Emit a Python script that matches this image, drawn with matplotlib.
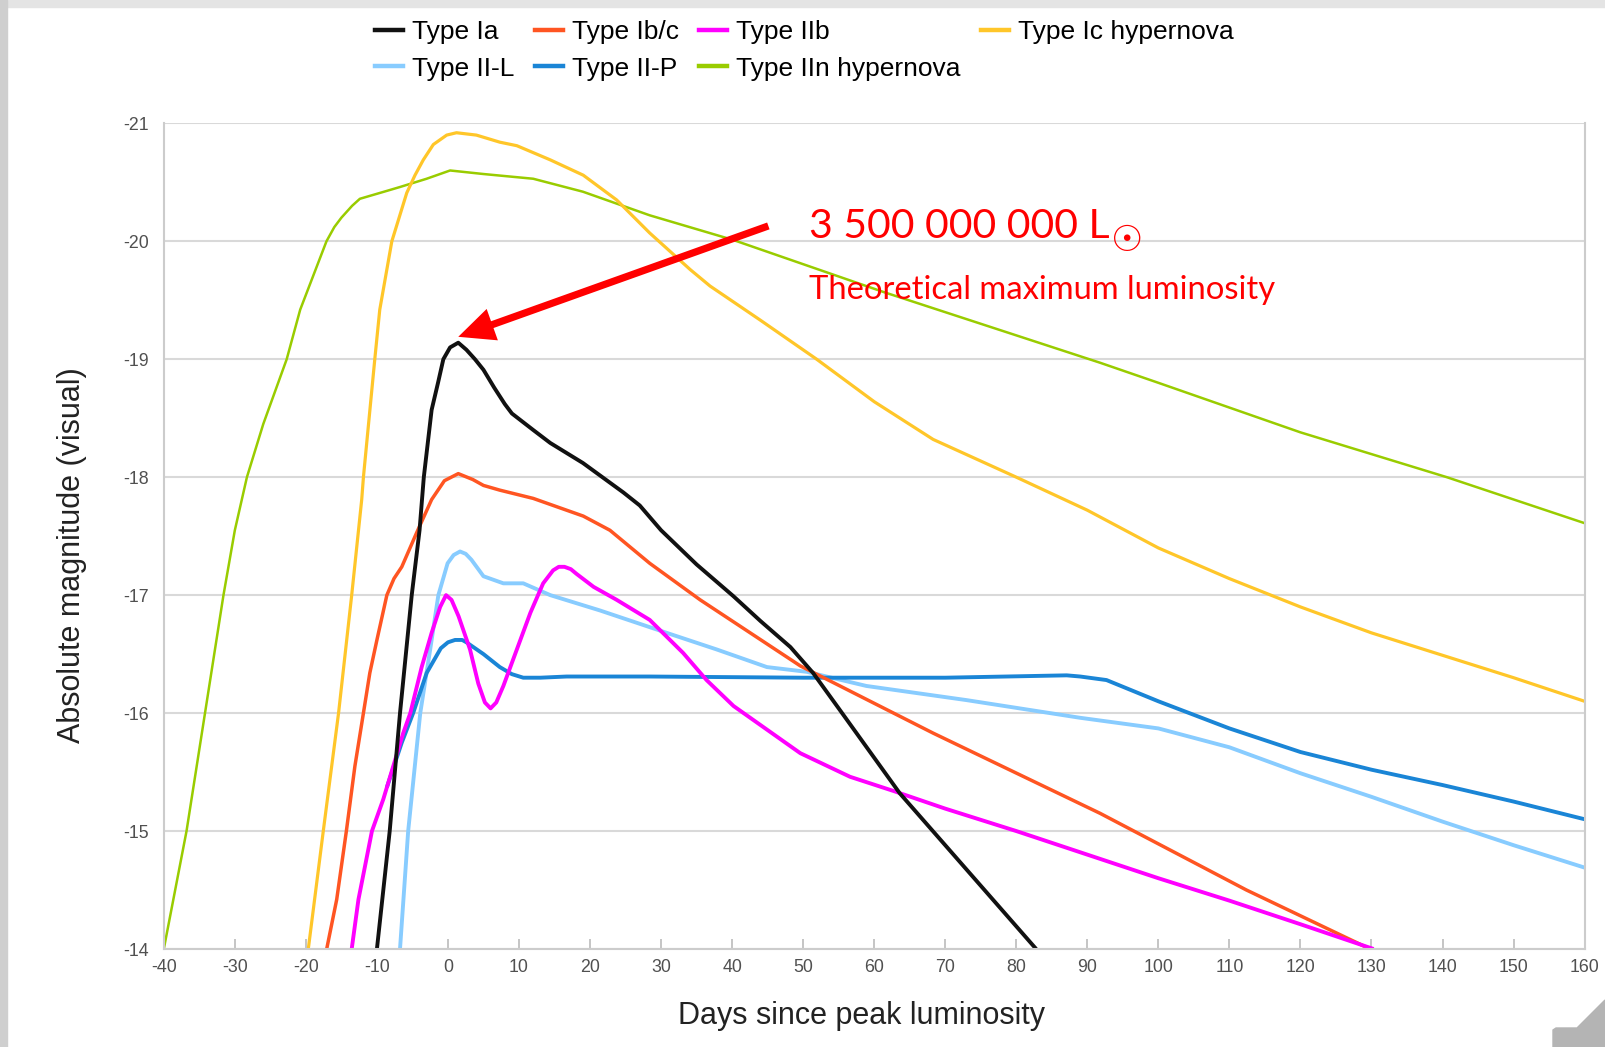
import numpy as np
import matplotlib.pyplot as plt
from matplotlib.lines import Line2D
from matplotlib.patches import Rectangle, Polygon

plt.rcParams['font.family'] = ['Liberation Sans', 'DejaVu Sans']
plt.rcParams['axes.unicode_minus'] = False

# light curves (days since peak, absolute magnitude)
ia_days = [-10.0, -8.2, -6.75, -5.1, -4.0, -3.4, -2.3, -1.4, -0.65, 0.3, 1.45, 2.6, 3.8, 5.0, 6.5, 8.0, 9.0, 10.5,
           12.0, 14.4, 19.0, 24.7, 27.0, 30.0, 35.0, 40.2, 44.0, 48.2, 51.4, 55.0, 63.6, 82.8]
ia_mag = [-14.0, -15.0, -16.0, -17.0, -17.55, -18.0, -18.57, -18.8, -19.0, -19.1, -19.14, -19.08, -19.0, -18.91,
          -18.76, -18.62, -18.54, -18.47, -18.4, -18.29, -18.12, -17.87, -17.76, -17.55, -17.26, -16.99, -16.78,
          -16.56, -16.34, -16.04, -15.32, -14.0]

ibc_days = [-17.07, -15.66, -14.3, -13.1, -11.9, -11.0, -10.0, -8.6, -7.6, -6.5, -4.4, -2.3, -0.5, 1.45, 3.5,
            5.0, 7.3, 12.0, 19.05, 22.8, 28.4, 35.5, 49.6, 68.3, 91.8, 112.4, 129.8]
ibc_mag = [-14.0, -14.42, -15.0, -15.55, -16.0, -16.34, -16.62, -17.0, -17.14, -17.24, -17.53, -17.81, -17.97,
           -18.03, -17.98, -17.93, -17.89, -17.82, -17.67, -17.55, -17.27, -16.96, -16.4, -15.83, -15.15, -14.5,
           -14.0]

iib_days = [-13.55, -12.6, -10.7, -9.1, -7.7, -6.3, -5.3, -3.7, -2.3, -1.1, -0.27, 0.5, 1.5, 3.1, 4.27, 5.2, 6.0,
            6.8, 7.8, 9.7, 11.6, 13.4, 14.8, 15.6, 16.4, 17.3, 18.1, 20.5, 23.75, 28.4, 33.1, 36.4, 40.2, 44.9,
            49.6, 56.6, 62.7, 70.0, 80.0, 90.0, 100.0, 110.0, 120.0, 130.3]
iib_mag = [-14.0, -14.42, -15.0, -15.27, -15.55, -15.83, -16.0, -16.39, -16.68, -16.9, -17.0, -16.96, -16.82,
           -16.54, -16.25, -16.09, -16.04, -16.09, -16.23, -16.54, -16.85, -17.1, -17.21, -17.24, -17.24, -17.22,
           -17.18, -17.07, -16.96, -16.79, -16.51, -16.28, -16.06, -15.86, -15.66, -15.46, -15.34, -15.19, -15.0,
           -14.8, -14.6, -14.41, -14.21, -14.0]

ic_hyper_days = [-19.66, -17.55, -15.4, -13.55, -12.14, -11.9, -10.3, -9.6, -7.9, -5.8, -4.64, -3.47, -2.06,
                 -0.18, 1.2, 4.0, 7.3, 9.7, 14.4, 19.05, 23.75, 28.4, 34.1, 36.9, 44.0, 51.9, 60.0, 68.3, 80.0,
                 90.0, 100.0, 110.0, 120.0, 130.0, 140.0, 150.0, 160.0]
ic_hyper_mag = [-14.0, -15.0, -16.0, -17.0, -17.81, -18.0, -19.0, -19.42, -20.0, -20.41, -20.56, -20.69, -20.82,
                -20.9, -20.92, -20.9, -20.84, -20.81, -20.69, -20.56, -20.35, -20.07, -19.76, -19.62, -19.33,
                -19.0, -18.64, -18.32, -18.0, -17.72, -17.4, -17.14, -16.9, -16.68, -16.49, -16.3, -16.1]

iil_days = [-6.75, -5.6, -3.9, -2.5, -1.35, -0.05, 0.8, 1.7, 2.5, 3.3, 5.0, 7.8, 10.6, 14.4, 21.4, 30.8, 37.8,
            44.9, 47.7, 50.5, 58.9, 73.0, 89.0, 100.0, 110.0, 120.0, 130.0, 140.0, 150.0, 160.0]
iil_mag = [-14.0, -15.0, -16.0, -16.54, -17.0, -17.27, -17.34, -17.37, -17.35, -17.3, -17.16, -17.1, -17.1, -17.0,
           -16.87, -16.68, -16.54, -16.39, -16.37, -16.35, -16.23, -16.11, -15.96, -15.87, -15.71, -15.49, -15.29,
           -15.08, -14.88, -14.69]

iip_days = [-8.6, -6.5, -4.9, -3.0, -1.0, 0.0, 1.0, 2.0, 2.6, 5.0, 7.3, 9.0, 10.6, 13.0, 16.7, 28.4, 50.0, 70.0,
            87.1, 89.0, 92.7, 100.0, 110.0, 120.0, 130.0, 140.0, 150.0, 160.0]
iip_mag = [-15.37, -15.75, -16.0, -16.34, -16.55, -16.6, -16.62, -16.62, -16.6, -16.5, -16.39, -16.33, -16.3,
           -16.3, -16.31, -16.31, -16.3, -16.3, -16.32, -16.31, -16.28, -16.1, -15.87, -15.67, -15.52, -15.39,
           -15.25, -15.1]

iin_hyper_days = [-40.0, -36.8, -34.2, -31.6, -30.0, -28.3, -26.0, -22.7, -20.8, -17.1, -16.0, -15.0, -13.5,
                  -12.4, -9.0, -6.75, -3.0, 0.3, 5.0, 12.0, 19.0, 28.4, 40.2, 61.3, 91.8, 100.0, 120.0, 140.6,
                  160.0]
iin_hyper_mag = [-14.0, -15.0, -16.0, -17.0, -17.55, -18.0, -18.45, -19.0, -19.42, -20.0, -20.12, -20.2, -20.3,
                 -20.36, -20.42, -20.46, -20.53, -20.6, -20.57, -20.53, -20.42, -20.22, -20.01, -19.57, -18.97,
                 -18.8, -18.38, -18.0, -17.61]

W, H = 1605, 1047
fig = plt.figure(figsize=(W / 100, H / 100), dpi=100)

# grey frame bits of the original screenshot
fig.patches.append(Rectangle((0, 1 - 7 / H), 1, 7 / H, transform=fig.transFigure, color='#e4e4e4', zorder=0))
fig.patches.append(Rectangle((0, 0), 7 / W, 1, transform=fig.transFigure, color='#cfcfcf', zorder=0))
corner = [(1553, 1047), (1553, 1030), (1556, 1028), (1577, 1028), (1605, 1000), (1605, 1047)]
fig.patches.append(Polygon([(x / W, 1 - y / H) for x, y in corner], closed=True,
                           transform=fig.transFigure, color='#b4b4b4', zorder=0))

ax = fig.add_axes([163.8 / W, 1 - 949 / H, 1420.8 / W, 825.7 / H])

series = [
    ('Type IIn hypernova', iin_hyper_days, iin_hyper_mag, '#99cc00', 1.8),
    ('Type Ic hypernova', ic_hyper_days, ic_hyper_mag, '#ffc629', 2.3),
    ('Type II-L', iil_days, iil_mag, '#88ccff', 2.8),
    ('Type II-P', iip_days, iip_mag, '#1a85d6', 2.8),
    ('Type Ib/c', ibc_days, ibc_mag, '#ff5522', 2.5),
    ('Type IIb', iib_days, iib_mag, '#ff00ff', 2.8),
    ('Type Ia', ia_days, ia_mag, '#111111', 2.8),
]
colors = {}
for name, d, m, c, lw in series:
    ax.plot(d, m, color=c, lw=lw, solid_joinstyle='round', solid_capstyle='butt')
    colors[name] = c

ax.set_xlim(-40, 160)
ax.set_ylim(-14, -21)
ax.set_xticks(np.arange(-40, 161, 10))
ax.set_yticks(np.arange(-21, -13, 1))
ax.grid(axis='y', color='#d9d9d9', lw=1.5)
ax.set_axisbelow(True)
for side in ['left', 'right', 'bottom']:
    ax.spines[side].set_color('#cccccc')
    ax.spines[side].set_linewidth(1.5)
ax.spines['top'].set_visible(False)
ax.tick_params(axis='x', direction='in', length=7, width=1.2, color='#bbbbbb', pad=7,
               labelsize=12.8, labelcolor='#505050')
ax.tick_params(axis='y', length=0, pad=11, labelsize=12.8, labelcolor='#505050')

ax.set_xlabel('Days since peak luminosity', fontsize=22, color='#222222')
ax.xaxis.set_label_coords((862 - 163.8) / 1420.8, (949 - 1016) / 825.7)
ax.xaxis.label.set_va('center')
ax.set_ylabel('Absolute magnitude (visual)', fontsize=22, color='#222222')
ax.yaxis.set_label_coords((72 - 163.8) / 1420.8, (949 - 555) / 825.7)
ax.yaxis.label.set_va('center')

# legend laid out in rows like the original
order = ['Type Ia', 'Type II-L', 'Type Ib/c', 'Type II-P', 'Type IIb', 'Type IIn hypernova', 'Type Ic hypernova']
handles = [Line2D([], [], color=colors[n], lw=3.2) for n in order]
fig.legend(handles, order, ncol=4, loc='upper left', bbox_to_anchor=(375 / W, 1 - 20 / H),
           frameon=False, fontsize=19, handlelength=1.05, handletextpad=0.35, columnspacing=0.78,
           labelspacing=0.48, borderpad=0, borderaxespad=0)

# annotation
ax.annotate('', xy=(1.45, -19.19), xytext=(45.1, -20.13),
            arrowprops=dict(arrowstyle='simple,head_length=0.65,head_width=0.6,tail_width=0.13',
                            color='red', lw=0, shrinkA=0, shrinkB=0, mutation_scale=40))
lum = ax.text(50.87, -20.03, '3 500 000 000 L', color='red', fontsize=29.5, family='Lato', va='baseline')
ax.text(50.87, -19.51, 'Theoretical maximum luminosity', color='red', fontsize=23.6, family='Lato',
        va='baseline')

# sun symbol sits right after the L, centred on the baseline
fig.canvas.draw()
bb = lum.get_window_extent()
base_px = ax.transData.transform((0, -20.03))[1]
fig.text((bb.x1 + 1) / W, (base_px - 13) / H, '\u2609', color='red', fontsize=26,
         family='DejaVu Sans', va='baseline', ha='left')

fig.savefig('out.png', dpi=100)
